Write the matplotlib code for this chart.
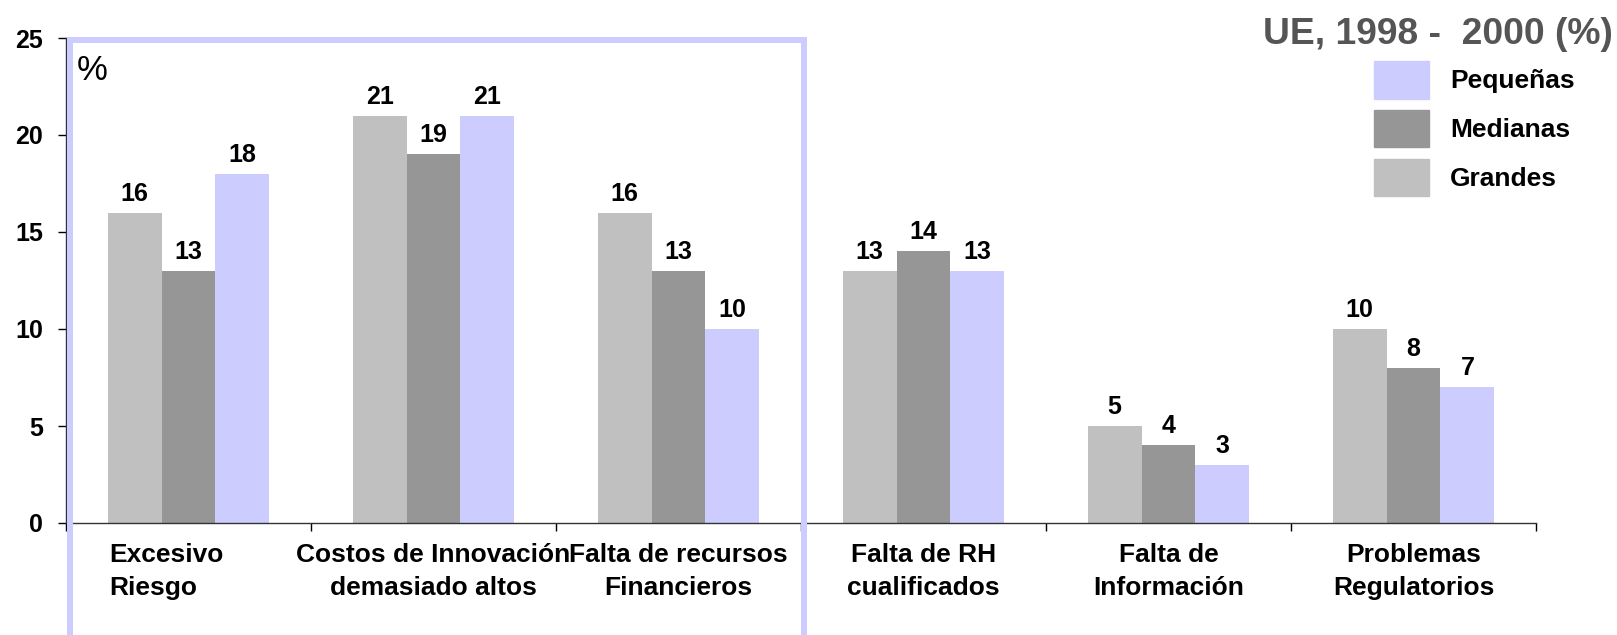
import numpy as np
import matplotlib
matplotlib.use("Agg")
import matplotlib.pyplot as plt
import matplotlib.transforms as mtransforms
from matplotlib.patches import Patch, Rectangle

plt.rcParams["font.family"] = ["Liberation Sans", "DejaVu Sans"]

categories = ["Excesivo\nRiesgo", "Costos de Innovación\ndemasiado altos",
              "Falta de recursos\nFinancieros", "Falta de RH\ncualificados",
              "Falta de\nInformación", "Problemas\nRegulatorios"]
grandes = [16, 21, 16, 13, 5, 10]
medianas = [13, 19, 13, 14, 4, 8]
pequenas = [18, 21, 10, 13, 3, 7]
yticks = [0, 5, 10, 15, 20, 25]
subtitle = "UE, 1998 -  2000 (%)"

C_GRANDES = "#C0C0C0"
C_MEDIANAS = "#969696"
C_PEQUENAS = "#CCCCFF"

W, H = 1617, 635
fig = plt.figure(figsize=(W / 100, H / 100), dpi=100)
ax = fig.add_axes([66 / W, 1 - 523 / H, (1536 - 66) / W, (523 - 38) / H])

x = np.arange(len(categories))
bw = 0.22
series = [(grandes, C_GRANDES, -bw), (medianas, C_MEDIANAS, 0), (pequenas, C_PEQUENAS, bw)]
for vals, col, off in series:
    ax.bar(x + off, vals, bw, color=col, linewidth=0, zorder=2)
    for xi, v in zip(x + off, vals):
        ax.annotate(str(v), (xi, v), xytext=(0, 8.6), textcoords="offset points",
                    ha="center", va="baseline", fontsize=18, fontweight="bold")

ax.set_xlim(-0.5, len(categories) - 0.5)
ax.set_ylim(0, 25)
ax.set_yticks(yticks)
ax.set_yticklabels([str(t) for t in yticks], fontsize=18, fontweight="bold")
ax.tick_params(axis="y", length=5.8, width=1, pad=10.5)

ax.set_xticks(x)
ax.set_xticklabels(categories, fontsize=19, fontweight="bold", linespacing=1.48)
ax.set_xticks(np.arange(len(categories) + 1) - 0.5, minor=True)
ax.tick_params(axis="x", which="major", length=0, pad=14.5)
ax.tick_params(axis="x", which="minor", length=5.5, width=1)

# first label sits a bit left of centre, lines left-aligned
lab0 = ax.get_xticklabels()[0]
lab0.set_multialignment("left")
lab0.set_transform(lab0.get_transform() + mtransforms.ScaledTranslation(-0.22, 0, fig.dpi_scale_trans))

for s in ["top", "right"]:
    ax.spines[s].set_visible(False)
for s in ["left", "bottom"]:
    ax.spines[s].set_color("#333333")
    ax.spines[s].set_linewidth(1)

ax.text(0.0075, 0.913, "%", transform=ax.transAxes, fontsize=25, va="baseline", ha="left")

# highlight frame
fig.patches.append(Rectangle((70 / W, -0.1), (804 - 70) / W, 0.1 + 1 - 40 / H,
                             transform=fig.transFigure, fill=False,
                             edgecolor=C_PEQUENAS, linewidth=4.3, clip_on=False))

fig.text(1613 / W, 1 - 44 / H, subtitle, ha="right", va="baseline",
         fontsize=26.8, fontweight="bold", color="#555555")

handles = [Patch(color=C_PEQUENAS, label="Pequeñas"),
           Patch(color=C_MEDIANAS, label="Medianas"),
           Patch(color=C_GRANDES, label="Grandes")]
leg = fig.legend(handles=handles, loc="upper left", bbox_to_anchor=(1374 / W, 1 - 61 / H),
                 frameon=False, borderpad=0, borderaxespad=0, handlelength=2.08,
                 handleheight=1.82, handletextpad=0.8, labelspacing=0.42,
                 prop={"size": 19, "weight": "bold"})

fig.savefig("out.png", dpi=100)
